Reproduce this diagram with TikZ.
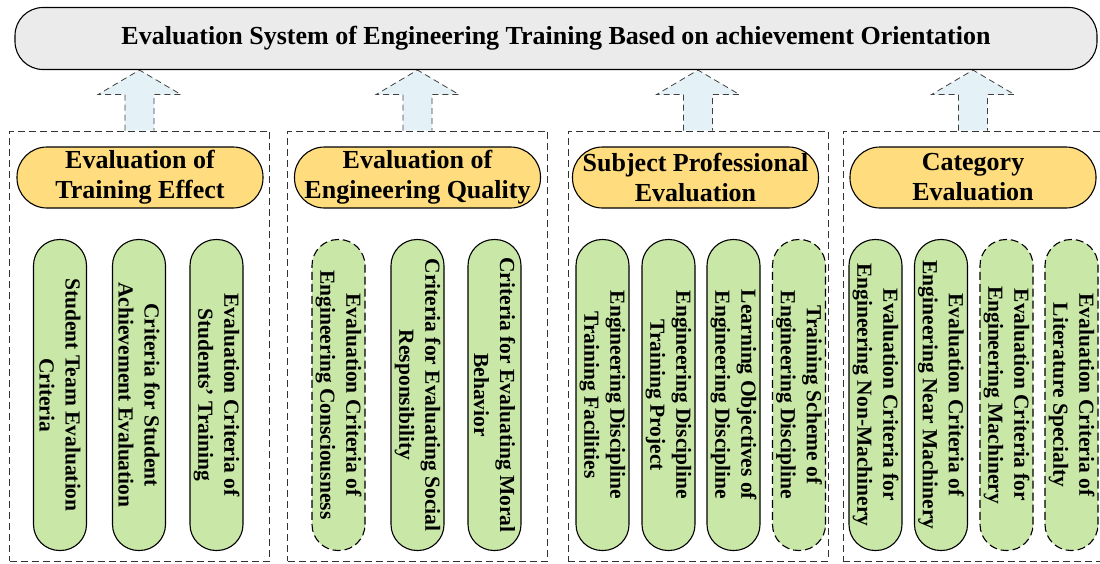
\documentclass[tikz,border=0pt]{standalone}
\usepackage{fontspec}
\setmainfont{Liberation Serif}
\usetikzlibrary{positioning,calc,backgrounds}

\definecolor{sysgray}{HTML}{EBEBEB}
\definecolor{headyellow}{HTML}{FFDC7D}
\definecolor{critgreen}{HTML}{C9E7A7}
\definecolor{liftblue}{HTML}{E4F2F8}

\begin{document}
\begin{tikzpicture}[x=1pt, y=-1pt, font=\bfseries,
  sysbox/.style={draw, line width=1.1pt, fill=sysgray, rounded corners=28pt, minimum width=1082pt, minimum height=62pt, font=\fontsize{26}{30}\selectfont\bfseries},
  groupbox/.style={draw=black!80, line width=0.9pt, dash pattern=on 7pt off 4pt, minimum width=260pt, minimum height=430pt},
  headbox/.style={draw, line width=1.1pt, fill=headyellow, rounded corners=30pt, minimum width=246pt, minimum height=61pt, inner sep=0pt, align=center, font=\fontsize{26}{30}\selectfont\bfseries},
  critbox/.style={draw, line width=1.1pt, fill=critgreen, rounded corners=26pt, minimum width=311pt, minimum height=53pt, inner sep=0pt, rotate=-90, align=center, font=\fontsize{21.5}{26}\selectfont\bfseries},
  critdash/.style={critbox, dash pattern=on 8pt off 4pt},
  liftarrow/.style={fill=liftblue, draw=black!75, line width=0.8pt, dash pattern=on 6pt off 4pt}]
  \useasboundingbox (0,0) rectangle (1100,563);

  \node[sysbox] (top) at (556,38.5) {Evaluation System of Engineering Training Based on achievement Orientation};

  \node[groupbox] (g1) at (139.5,346) {};
  \node[groupbox] (g2) at (417.5,346) {};
  \node[groupbox] (g3) at (698,346) {};
  \node[groupbox] (g4) at (973,346) {};

  \node[headbox] (h1) at (140,177.5) {Evaluation of\\Training Effect};
  \node[headbox] (h2) at (417.5,177.5) {Evaluation of\\Engineering Quality};
  \node[headbox] (h3) at (695.5,177.5) {Subject Professional\\Evaluation};
  \node[headbox] (h4) at (973,177.5) {Category\\Evaluation};

  % criteria of each group
  \node[critbox] (c11) at (60,395) {Student Team Evaluation\\Criteria};
  \node[critbox] (c12) at (139,395) {Criteria for Student\\Achievement Evaluation};
  \node[critbox] (c13) at (216.5,395) {Evaluation Criteria of\\Students' Training};

  \node[critdash] (c21) at (338.5,395) {Evaluation Criteria of\\Engineering Consciousness};
  \node[critbox] (c22) at (417.5,395) {Criteria for Evaluating Social\\Responsibility};
  \node[critbox] (c23) at (494.5,395) {Criteria for Evaluating Moral\\Behavior};

  \node[critbox] (c31) at (602.5,395) {Engineering Discipline\\Training Facilities};
  \node[critbox] (c32) at (668.5,395) {Engineering Discipline\\Training Project};
  \node[critbox] (c33) at (733.5,395) {Learning Objectives of\\Engineering Discipline};
  \node[critdash] (c34) at (799,395) {Training Scheme of\\Engineering Discipline};

  \node[critbox] (c41) at (875.5,395) {Evaluation Criteria for\\Engineering Non-Machinery};
  \node[critbox] (c42) at (941,395) {Evaluation Criteria of\\Engineering Near Machinery};
  \node[critdash] (c43) at (1006.5,395) {Evaluation Criteria for\\Engineering Machinery};
  \node[critdash] (c44) at (1071.5,395) {Evaluation Criteria of\\Literature Specialty};

  % block arrows up to the system
  \begin{scope}[on background layer]
  \foreach \g in {g1,g2,g3,g4}
    \filldraw[liftarrow] ($(\g.north)+(-14.5,0)$) -- ++(0,-36) -- ++(-27,0) -- (\g.north |- top.south)
      -- ($(\g.north)+(41.5,-36)$) -- ++(-27,0) -- ++(0,36);
  \end{scope}
\end{tikzpicture}
\end{document}
